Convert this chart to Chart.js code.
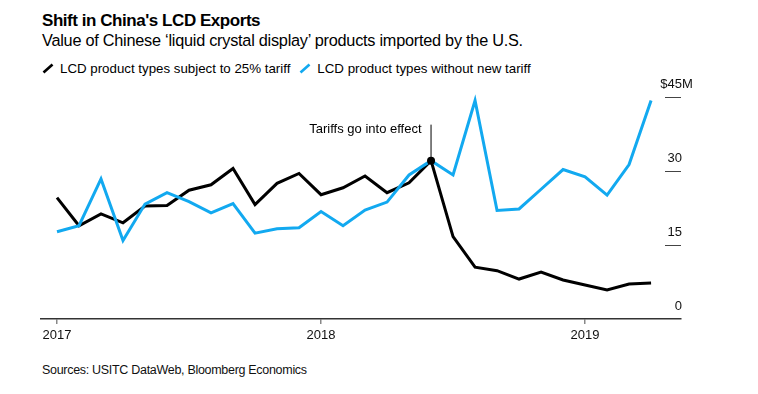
<!DOCTYPE html>
<html>
<head>
<meta charset="utf-8">
<script src="https://cdn.jsdelivr.net/npm/chart.js@4.4.1/dist/chart.umd.min.js"></script>
<style>
  html, body { margin: 0; padding: 0; background: #fff; }
  body { width: 758px; height: 394px; position: relative; overflow: hidden;
         font-family: "Liberation Sans", Arial, sans-serif; color: #000; }
  .txt { position: absolute; left: 42px; line-height: 1; white-space: nowrap; }
  #title { top: 12px; font-size: 17px; font-weight: bold; letter-spacing: -0.45px; }
  #subtitle { top: 32px; font-size: 16.3px; letter-spacing: -0.25px; }
  #legend { top: 62px; font-size: 13.3px; display: flex; align-items: center; }
  #legend .item { display: flex; align-items: center; margin-right: 9px; }
  #legend svg { margin-right: 6px; }
  #source { top: 364px; font-size: 12.5px; color: #111; letter-spacing: -0.3px; }
  #wrap { position: absolute; left: 0; top: 0; width: 758px; height: 394px; }
</style>
</head>
<body>
<div id="title" class="txt">Shift in China's LCD Exports</div>
<div id="subtitle" class="txt">Value of Chinese ‘liquid crystal display’ products imported by the U.S.</div>
<div id="legend" class="txt"></div>
<div id="source" class="txt">Sources: USITC DataWeb, Bloomberg Economics</div>
<div id="wrap"><canvas id="chart" width="758" height="394"></canvas></div>
<script>
  // ---- Data ------------------------------------------------
  const MONTHS = [
    'Jan 2017', 'Feb 2017', 'Mar 2017', 'Apr 2017', 'May 2017', 'Jun 2017',
    'Jul 2017', 'Aug 2017', 'Sep 2017', 'Oct 2017', 'Nov 2017', 'Dec 2017',
    'Jan 2018', 'Feb 2018', 'Mar 2018', 'Apr 2018', 'May 2018', 'Jun 2018',
    'Jul 2018', 'Aug 2018', 'Sep 2018', 'Oct 2018', 'Nov 2018', 'Dec 2018',
    'Jan 2019', 'Feb 2019', 'Mar 2019', 'Apr 2019',
  ];
  // $ millions
  const TARIFF_25 = [
    24.6, 18.9, 21.3, 19.5, 22.9, 23.0, 26.1, 27.2, 30.5, 23.2, 27.5, 29.5,
    25.2, 26.6, 29.0, 25.6, 27.6, 32.1, 16.7, 10.5, 9.8, 8.1, 9.5, 7.9,
    6.9, 5.9, 7.1, 7.3,
  ];
  const NO_TARIFF = [
    17.7, 18.9, 28.4, 15.9, 23.3, 25.6, 23.8, 21.5, 23.4, 17.4, 18.3, 18.5,
    21.8, 18.9, 22.1, 23.7, 29.2, 32.1, 29.2, 44.3, 22.0, 22.3, 26.3, 30.3,
    28.8, 25.1, 31.3, 44.3,
  ];
  const SERIES_NAMES = ['LCD product types subject to 25% tariff', 'LCD product types without new tariff'];
  const YEAR_TICKS = [0, 12, 24];
  const YEAR_LABELS = ['2017', '2018', '2019'];
  const Y_TICKS = [0, 15, 30, 45];
  const ANNOTATION_INDEX = 17;
  const ANNOTATION_TEXT = 'Tariffs go into effect';

  const BLACK = '#000000';
  const BLUE = '#12a9f0';
  const FONT = '"Liberation Sans", Arial, sans-serif';

  // ---- Legend (HTML) ---------------------------------------
  const legendEl = document.getElementById('legend');
  [BLACK, BLUE].forEach((c, i) => {
    const item = document.createElement('div');
    item.className = 'item';
    item.innerHTML =
      '<svg width="12" height="11"><line x1="1.5" y1="9.5" x2="10.5" y2="1.5" stroke="' + c +
      '" stroke-width="2.6" stroke-linecap="butt"/></svg><span>' + SERIES_NAMES[i] + '</span>';
    legendEl.appendChild(item);
  });

  // ---- Plugins ---------------------------------------------
  // y ticks: short marks at the right with the value sitting above
  const yLabels = {
    id: 'yLabels',
    afterDraw(chart) {
      const { ctx, scales: { y }, chartArea } = chart;
      const right = chartArea.right;
      ctx.save();
      ctx.font = '13px ' + FONT;
      ctx.fillStyle = '#111';
      ctx.textBaseline = 'middle';
      Y_TICKS.forEach((v) => {
        const py = y.getPixelForValue(v);
        ctx.strokeStyle = '#444';
        ctx.lineWidth = 1;
        if (v !== 0) {
          ctx.beginPath();
          ctx.moveTo(right - 16, py + 0.5);
          ctx.lineTo(right, py + 0.5);
          ctx.stroke();
        }
        const ly = py - 12.5;
        ctx.textAlign = 'right';
        ctx.fillText(String(v), right + 1, ly);
        if (v === Y_TICKS[Y_TICKS.length - 1]) {
          const w = ctx.measureText(String(v)).width;
          ctx.fillText('$', right + 1 - w, ly);
          ctx.textAlign = 'left';
          ctx.fillText('M', right + 1, ly);
        }
      });
      ctx.restore();
    },
  };

  const annotation = {
    id: 'annotation',
    afterDatasetsDraw(chart) {
      const { ctx, scales: { x, y } } = chart;
      const px = x.getPixelForValue(ANNOTATION_INDEX);
      const py = y.getPixelForValue(TARIFF_25[ANNOTATION_INDEX]);
      ctx.save();
      ctx.strokeStyle = '#000';
      ctx.lineWidth = 1;
      ctx.beginPath();
      ctx.moveTo(px, py - 36);
      ctx.lineTo(px, py);
      ctx.stroke();
      ctx.fillStyle = '#000';
      ctx.beginPath();
      ctx.arc(px, py, 4, 0, Math.PI * 2);
      ctx.fill();
      ctx.font = '13px ' + FONT;
      ctx.textAlign = 'right';
      ctx.textBaseline = 'middle';
      ctx.fillText(ANNOTATION_TEXT, px - 9.5, py - 31.5);
      ctx.restore();
    },
  };

  // ---- Chart -----------------------------------------------
  const toPoints = (arr) => arr.map((v, i) => ({ x: i, y: v }));

  new Chart(document.getElementById('chart'), {
    type: 'line',
    data: {
      labels: MONTHS,
      datasets: [
        {
          label: SERIES_NAMES[1],
          data: toPoints(NO_TARIFF),
          borderColor: BLUE,
          borderWidth: 3,
          pointRadius: 0,
          tension: 0,
          fill: false,
          clip: false,
        },
        {
          label: SERIES_NAMES[0],
          data: toPoints(TARIFF_25),
          borderColor: BLACK,
          borderWidth: 3,
          pointRadius: 0,
          tension: 0,
          fill: false,
          clip: false,
        },
      ],
    },
    options: {
      responsive: false,
      animation: false,
      events: [],
      layout: { padding: { left: 41, right: 77, top: 97, bottom: 25 } },
      scales: {
        x: {
          type: 'linear',
          min: -0.727,
          max: 28.36,
          afterBuildTicks: (scale) => { scale.ticks = YEAR_TICKS.map((v) => ({ value: v })); },
          afterFit: (scale) => { scale.height = 50; },
          grid: { drawOnChartArea: false, drawTicks: true, tickLength: 5, color: '#888', lineWidth: 1.5 },
          border: { color: '#333', width: 1.5 },
          ticks: {
            color: '#111',
            padding: 4,
            maxRotation: 0,
            font: { family: FONT, size: 13 },
            callback: (v) => YEAR_LABELS[YEAR_TICKS.indexOf(v)],
          },
        },
        y: {
          display: false,
          min: 0,
          max: 45,
        },
      },
      plugins: {
        legend: { display: false },
        tooltip: { enabled: false },
      },
    },
    plugins: [yLabels, annotation],
  });
</script>
</body>
</html>
